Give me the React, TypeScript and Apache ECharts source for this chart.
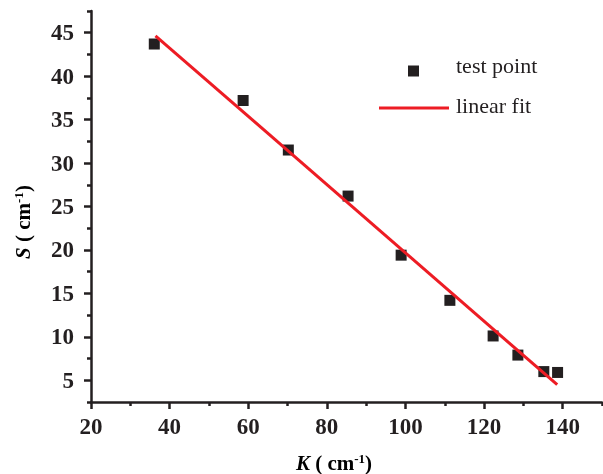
import React, { useEffect, useRef } from "react";
import * as echarts from "echarts";

const kValues = [36.1, 58.7, 70.2, 85.4, 98.9, 111.3, 122.3, 128.6, 135.2, 138.7];
const sValues = [43.7, 37.2, 31.5, 26.2, 19.4, 14.2, 10.1, 7.9, 6.0, 5.9];
const fitK = [36.4, 138.6];
const fitS = [44.65, 4.5];
const xMajorTicks = [20, 40, 60, 80, 100, 120, 140];
const xMinorTicks = [30, 50, 70, 90, 110, 130, 150];
const yMajorTicks = [5, 10, 15, 20, 25, 30, 35, 40, 45];
const yMinorTicks = [2.5, 7.5, 12.5, 17.5, 22.5, 27.5, 32.5, 37.5, 42.5, 47.5];

const FONT = "Liberation Serif";
const AX = "#231f20";
const RED = "#ed1c24";

export default function App() {
  const ref = useRef<HTMLDivElement>(null);
  useEffect(() => {
    if (!ref.current) return;
    const chart = echarts.init(ref.current, undefined, { renderer: "svg" });
    const axisLine = { show: true, onZero: false, lineStyle: { color: AX, width: 2.5 } };
    const labelStyle = { color: AX, fontFamily: FONT, fontSize: 23, fontWeight: "bold" as const };
    const nameRich = {
      i: { fontFamily: FONT, fontSize: 21, fontWeight: "bold", fontStyle: "italic", color: AX },
      b: { fontFamily: FONT, fontSize: 21, fontWeight: "bold", color: AX },
      s: { fontFamily: FONT, fontSize: 13, fontWeight: "bold", color: AX, verticalAlign: "top", padding: [0, 0, 10, 0] },
    };
    chart.setOption({
      animation: false,
      grid: { left: 91, right: 1, top: 11, bottom: 72 },
      xAxis: [
        {
          type: "value", min: 20, max: 150, position: "bottom",
          axisLine,
          axisTick: { show: true, customValues: xMajorTicks, length: 7, lineStyle: { color: AX, width: 2.5 } },
          axisLabel: { ...labelStyle, customValues: xMajorTicks, margin: 13 },
          splitLine: { show: false },
        },
        {
          type: "value", min: 20, max: 150, position: "bottom",
          axisLine: { show: false, onZero: false },
          axisTick: { show: true, customValues: xMinorTicks, length: 4, lineStyle: { color: AX, width: 2.5 } },
          axisLabel: { show: false },
          splitLine: { show: false },
        },
      ],
      yAxis: [
        {
          type: "value", min: 2.5, max: 47.5, position: "left",
          axisLine,
          axisTick: { show: true, customValues: yMajorTicks, length: 7, lineStyle: { color: AX, width: 2.5 } },
          axisLabel: { ...labelStyle, customValues: yMajorTicks, margin: 17 },
          splitLine: { show: false },
        },
        {
          type: "value", min: 2.5, max: 47.5, position: "left",
          axisLine: { show: false, onZero: false },
          axisTick: { show: true, customValues: yMinorTicks, length: 4, lineStyle: { color: AX, width: 2.5 } },
          axisLabel: { show: false },
          splitLine: { show: false },
        },
      ],
      legend: [
        {
          data: [{ name: "test point", icon: "rect" }],
          left: 408, top: 54.5, padding: 0,
          itemWidth: 11, itemHeight: 11,
          formatter: "{g|}{t|{name}}",
          textStyle: {
            fontFamily: FONT, fontSize: 22, color: AX, lineHeight: 22,
            rich: { g: { width: 32 }, t: { fontFamily: FONT, fontSize: 22, color: AX, padding: [0, 0, 11, 0] } },
          },
        },
        {
          data: [{ name: "linear fit", icon: "rect" }],
          left: 379, top: 94, padding: 0,
          itemWidth: 70, itemHeight: 3,
          formatter: "{g|}{t|{name}}",
          textStyle: {
            fontFamily: FONT, fontSize: 22, color: AX, lineHeight: 22,
            rich: { g: { width: 2 }, t: { fontFamily: FONT, fontSize: 22, color: AX, padding: [0, 0, 6, 0] } },
          },
        },
      ],
      graphic: [
        {
          type: "text", x: 334, y: 463,
          style: {
            text: "{i|K}{b| ( cm}{s|-1}{b|)}",
            rich: nameRich as any,
            align: "center", verticalAlign: "middle",
          },
        },
        {
          type: "text", x: 23, y: 222, rotation: Math.PI / 2,
          style: {
            text: "{i|S}{b| ( cm}{s|-1}{b|)}",
            rich: nameRich as any,
            align: "center", verticalAlign: "middle",
          },
        },
      ],
      series: [
        {
          name: "test point", type: "scatter", symbol: "rect", symbolSize: 11,
          itemStyle: { color: AX, opacity: 1 },
          data: kValues.map((k, i) => [k, sValues[i]]),
          z: 3,
        },
        {
          name: "linear fit", type: "line", symbol: "none", showSymbol: false,
          lineStyle: { color: RED, width: 3 }, itemStyle: { color: RED },
          data: fitK.map((k, i) => [k, fitS[i]]),
          z: 4,
        },
      ],
    });
    return () => chart.dispose();
  }, []);
  return <div ref={ref} style={{ position: "fixed", left: 0, top: 0, width: 603, height: 474 }} />;
}
